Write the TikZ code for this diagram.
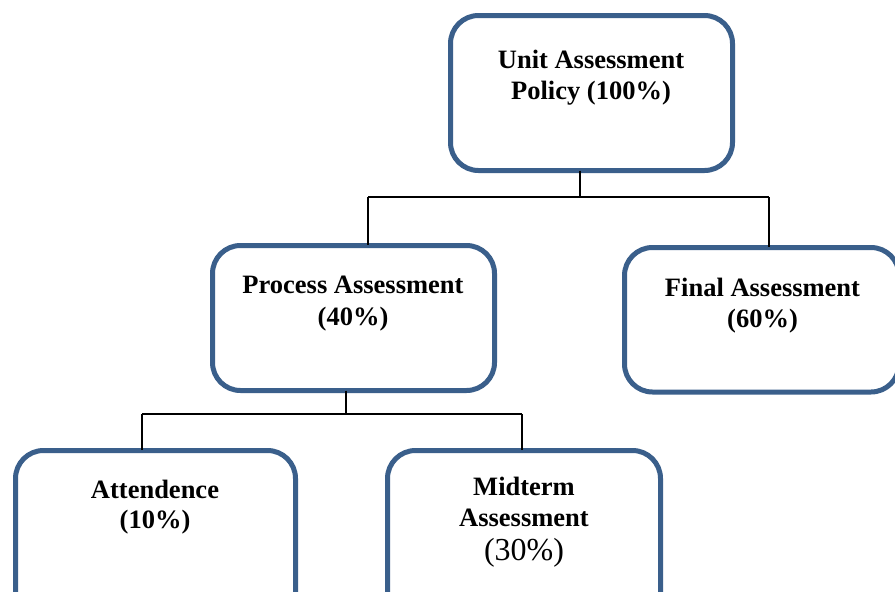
\documentclass[tikz,border=0pt]{standalone}
\usepackage{fontspec}
\setmainfont{Liberation Serif}
\definecolor{boxblue}{RGB}{58,95,139}
\begin{document}
\begin{tikzpicture}[x=1pt,y=-1pt,
  box/.style={draw=boxblue, line width=5pt, rounded corners=28pt, fill=white},
  conn/.style={draw=black, line width=1.4pt},
  lbl/.style={anchor=base, inner sep=0pt, font=\fontsize{26.5}{31}\selectfont\bfseries},
  lblreg/.style={anchor=base, inner sep=0pt, font=\fontsize{32}{36}\selectfont}]
\useasboundingbox (0,0) rectangle (895,592);
\clip (0,0) rectangle (895,592);
\fill[white] (0,0) rectangle (895,592);

% boxes
\draw[box] (450.5,15.5) rectangle (732.5,170.5);
\node[inner sep=0pt, minimum width=282pt, minimum height=155pt] (unit) at (591.5,93) {};
\draw[box] (212.5,245.5) rectangle (494.5,390.5);
\node[inner sep=0pt, minimum width=282pt, minimum height=145pt] (process) at (353.5,318) {};
\draw[box] (624.5,247.5) rectangle (899,392);
\node[inner sep=0pt, minimum width=274.5pt, minimum height=144.5pt] (final) at (761.75,319.75) {};
\draw[box] (15.5,450.5) rectangle (295.5,640);
\node[inner sep=0pt, minimum width=280pt, minimum height=189.5pt] (att) at (155.5,545.25) {};
\draw[box] (387.5,450.5) rectangle (660.5,640);
\node[inner sep=0pt, minimum width=273pt, minimum height=189.5pt] (mid) at (524,545.25) {};

% texts
\node[lbl] (u1) at (591,68) {Unit Assessment};
\node[lbl] (u2) at (591,99) {Policy (100\%)};
\node[lbl] (p1) at (353,293) {Process Assessment};
\node[lbl] (p2) at (353,325) {(40\%)};
\node[lbl] (f1) at (762.5,296) {Final Assessment};
\node[lbl] (f2) at (762.5,327) {(60\%)};
\node[lbl] (a1) at (155,498) {Attendence};
\node[lbl] (a2) at (155,528) {(10\%)};
\node[lbl] (m1) at (524,495) {Midterm};
\node[lbl] (m2) at (524,526) {Assessment};
\node[lblreg] (m3) at (524,560) {(30\%)};

% connectors
\coordinate (j1) at (580,197);
\coordinate (pl) at (368,197);
\coordinate (fr) at (769,197);
\draw[conn] (j1 |- unit.south) -- (j1);
\draw[conn] (pl) -- (fr);
\draw[conn] (pl) -- (pl |- process.north);
\draw[conn] (fr) -- (fr |- final.north);

\coordinate (j2) at (346,414);
\coordinate (al) at (142,414);
\coordinate (mr) at (522,414);
\draw[conn] (j2 |- process.south) -- (j2);
\draw[conn] (al) -- (mr);
\draw[conn] (al) -- (al |- att.north);
\draw[conn] (mr) -- (mr |- mid.north);
\end{tikzpicture}
\end{document}
